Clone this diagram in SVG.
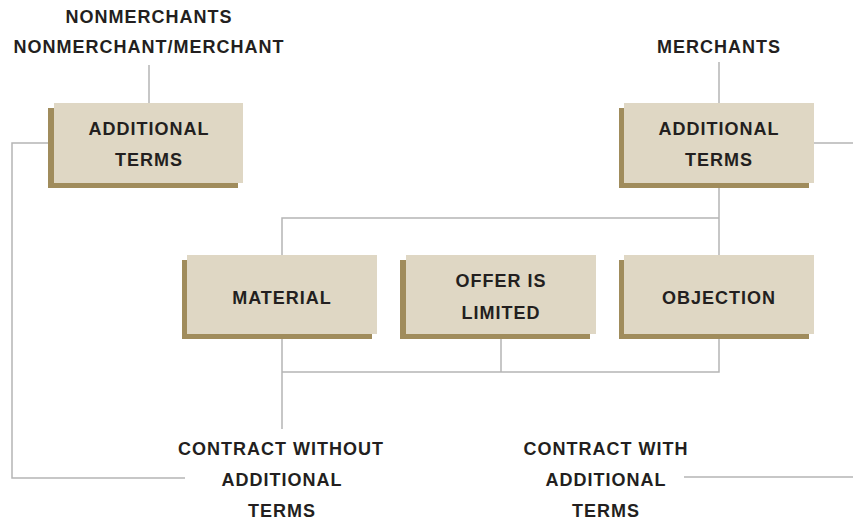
<svg xmlns="http://www.w3.org/2000/svg" width="853" height="521" viewBox="0 0 853 521">
<style>
.face{fill:#dfd7c4}
.shadow{fill:#a08c5c}
.conn{stroke:#b5b5b5;stroke-width:1.5;fill:none}
text{font-family:"Liberation Sans",Arial,sans-serif;font-weight:bold;font-size:18px;fill:#231f20;text-anchor:middle;letter-spacing:1px}
</style>
<rect width="853" height="521" fill="#ffffff"/>
<g id="connectors">
<path class="conn" d="M149 65V103"/>
<path class="conn" d="M54 143H12V478H185"/>
<path class="conn" d="M719 62V103"/>
<path class="conn" d="M814 143H853"/>
<path class="conn" d="M719 188V255"/>
<path class="conn" d="M719 218H282V255"/>
<path class="conn" d="M282 339V429"/>
<path class="conn" d="M501 339V372"/>
<path class="conn" d="M719 334V372H282"/>
<path class="conn" d="M684 477H853"/>
</g>
<g id="label-nonmerchants">
<text x="149" y="23">NONMERCHANTS</text>
<text x="149" y="53">NONMERCHANT/MERCHANT</text>
</g>
<g id="label-merchants">
<text x="719" y="53">MERCHANTS</text>
</g>
<g id="additional-left">
<rect class="shadow" x="48" y="108" width="190" height="80"/>
<rect class="face" x="54" y="103" width="189" height="80"/>
<text x="149" y="135">ADDITIONAL</text>
<text x="149" y="166">TERMS</text>
</g>
<g id="additional-right">
<rect class="shadow" x="619" y="108" width="190" height="80"/>
<rect class="face" x="624" y="103" width="190" height="80"/>
<text x="719" y="135">ADDITIONAL</text>
<text x="719" y="166">TERMS</text>
</g>
<g id="material">
<rect class="shadow" x="182" y="260" width="190" height="79"/>
<rect class="face" x="187" y="255" width="190" height="79"/>
<text x="282" y="304">MATERIAL</text>
</g>
<g id="offer-limited">
<rect class="shadow" x="400" y="260" width="190" height="79"/>
<rect class="face" x="406" y="255" width="190" height="79"/>
<text x="501" y="287">OFFER IS</text>
<text x="501" y="319">LIMITED</text>
</g>
<g id="objection">
<rect class="shadow" x="619" y="260" width="190" height="79"/>
<rect class="face" x="624" y="255" width="190" height="79"/>
<text x="719" y="304">OBJECTION</text>
</g>
<g id="contract-without">
<text x="281" y="455">CONTRACT WITHOUT</text>
<text x="282" y="486">ADDITIONAL</text>
<text x="282" y="517">TERMS</text>
</g>
<g id="contract-with">
<text x="606" y="455">CONTRACT WITH</text>
<text x="606" y="486">ADDITIONAL</text>
<text x="606" y="517">TERMS</text>
</g>
</svg>
